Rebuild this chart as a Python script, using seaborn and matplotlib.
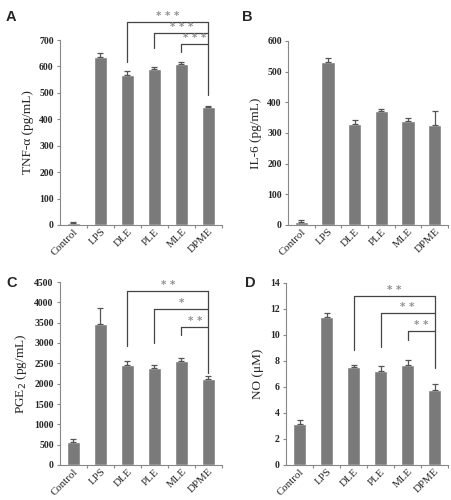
import pandas as pd
import matplotlib
matplotlib.use("Agg")
import matplotlib.pyplot as plt
import seaborn as sns

groups = ["Control", "LPS", "DLE", "PLE", "MLE", "DPME"]

tnf = [8, 635, 568, 592, 610, 447]
tnf_err = [3, 17, 13, 6, 7, 5]
il6 = [10, 530, 330, 372, 340, 325]
il6_err = [6, 14, 12, 6, 10, 48]
pge2 = [555, 3460, 2470, 2390, 2550, 2110]
pge2_err = [90, 410, 80, 80, 80, 80]
no = [3.15, 11.4, 7.55, 7.25, 7.7, 5.8]
no_err = [0.3, 0.3, 0.15, 0.35, 0.35, 0.4]

# brackets: (left group, bar level, left leg bottom, label)
tnf_sig = [(2, 768, 617, "* * *"), (3, 726, 670, "* * *"), (4, 685, 655, "* * *")]
tnf_sig_right = 492
pge2_sig = [(2, 4290, 2925, "* *"), (3, 3840, 3000, "*"), (4, 3400, 3190, "* *")]
pge2_sig_right = 2260
no_sig = [(2, 13.0, 8.85, "* *"), (3, 11.7, 9.1, "* *"), (4, 10.3, 9.6, "* *")]
no_sig_right = 7.45

sns.set_style("white")
plt.rcParams["font.family"] = ["Liberation Serif", "DejaVu Serif"]

bar_color = "#7a7a7a"
W, H = 451, 500
fig = plt.figure(figsize=(W / 100, H / 100), dpi=100)


def panel(rect, vals, errs, ylabel, ymax, step, letter, letter_xy):
    l, t, r, b = rect
    ax = fig.add_axes([l / W, 1 - b / H, (r - l) / W, (b - t) / H])
    df = pd.DataFrame({"group": groups, "value": vals})
    sns.barplot(data=df, x="group", y="value", color=bar_color, width=0.5,
                saturation=1, errorbar=None, ax=ax)
    ax.errorbar(range(len(groups)), vals, yerr=[[0] * len(errs), errs],
                fmt="none", ecolor="#555555", elinewidth=0.9, capsize=2.5,
                capthick=0.9)
    ax.set_xlim(-0.5, 5.5)
    ax.set_ylim(0, ymax)
    ticks = [i * step for i in range(int(round(ymax / step)) + 1)]
    ax.set_yticks(ticks)
    ax.set_yticklabels([f"{v:g}" for v in ticks], fontsize=7, fontweight="bold")
    ax.set_xticks(range(len(groups)))
    ax.set_xticklabels(groups, rotation=45, ha="right", rotation_mode="anchor",
                       fontsize=7.8)
    ax.set_xticks([i + 0.5 for i in range(len(groups))], minor=True)
    ax.set_xlabel("")
    ax.set_ylabel(ylabel, fontsize=9.5)
    for s in ["top", "right"]:
        ax.spines[s].set_visible(False)
    for s in ["left", "bottom"]:
        ax.spines[s].set_color("#888888")
        ax.spines[s].set_linewidth(0.8)
    ax.tick_params(axis="y", direction="out", length=2.5, width=0.8,
                   color="#888888", pad=2, left=True)
    ax.tick_params(axis="x", which="major", length=0, pad=1.5)
    ax.tick_params(axis="x", which="minor", direction="out", length=2.5,
                   width=0.8, color="#888888", bottom=True)
    fig.text(letter_xy[0] / W, 1 - letter_xy[1] / H, letter, fontsize=10.5,
             fontweight="bold", family="Liberation Sans", ha="left", va="center")
    return ax


def brackets(ax, sig, right_bottom, ymax):
    right = 5
    top = max(s[1] for s in sig)
    ax.plot([right, right], [right_bottom, top], color="#444444", lw=0.9,
            clip_on=False)
    for left, level, leg, label in sig:
        ax.plot([left, left, right], [leg, level, level], color="#444444",
                lw=0.9, clip_on=False)
        ax.text((left + right) / 2, level + ymax * 0.004, label, ha="center",
                va="bottom", fontsize=7.5, color="#909090", clip_on=False,
                family="DejaVu Sans", fontweight="bold")


axA = panel((60, 40, 222, 225), tnf, tnf_err, "TNF-α (pg/mL)", 700, 100,
            "A", (6, 17))
brackets(axA, tnf_sig, tnf_sig_right, 700)

axB = panel((288, 41, 448, 225), il6, il6_err, "IL-6 (pg/mL)", 600, 100,
            "B", (242, 17))

axC = panel((60, 282, 222, 465), pge2, pge2_err, "PGE$_2$ (pg/mL)", 4500, 500,
            "C", (6, 283))
brackets(axC, pge2_sig, pge2_sig_right, 4500)

axD = panel((286, 283, 448, 465), no, no_err, "NO (μM)", 14, 2,
            "D", (245, 283))
brackets(axD, no_sig, no_sig_right, 14)

fig.savefig("out.png", dpi=100)
